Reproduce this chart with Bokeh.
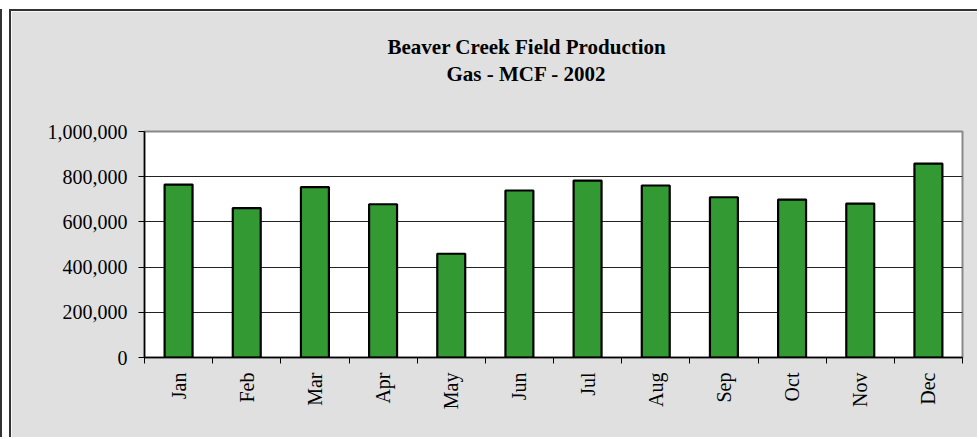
from bokeh.plotting import figure
from bokeh.models import (ColumnDataSource, FixedTicker, NumeralTickFormatter,
                          Range1d, Title)
from bokeh.embed import file_html
from bokeh.resources import INLINE

months = ["Jan", "Feb", "Mar", "Apr", "May", "Jun",
          "Jul", "Aug", "Sep", "Oct", "Nov", "Dec"]
gas_mcf = [765000, 661000, 754000, 678000, 459000, 739000,
           783000, 761000, 709000, 699000, 681000, 858000]
y_ticks = [0, 200000, 400000, 600000, 800000, 1000000]

positions = [i + 0.5 for i in range(len(months))]
source = ColumnDataSource(dict(x=positions, month=months, gas=gas_mcf))

FONT = "Liberation Serif"
BG = "#e0e0e0"

p = figure(width=968, height=428, output_backend="svg", toolbar_location=None,
           x_range=Range1d(0, len(months)), y_range=Range1d(0, 1000000),
           background_fill_color="white", border_fill_color=BG,
           min_border_left=133, min_border_right=17,
           min_border_top=120, min_border_bottom=82)
p.title.text = ""
p.title.visible = False

p.add_layout(Title(text=" ", text_font_size="1px", standoff=42), "above")
p.add_layout(Title(text="Gas - MCF - 2002", align="left",
                   text_font=FONT, text_font_size="21px", text_font_style="bold",
                   text_color="black", standoff=2, offset=302), "above")
p.add_layout(Title(text="Beaver Creek Field Production", align="left",
                   text_font=FONT, text_font_size="21px", text_font_style="bold",
                   text_color="black", standoff=0, offset=243), "above")

p.vbar(x="x", top="gas", bottom=0, width=0.41, source=source,
       fill_color="#339933", line_color="black", line_width=2.2)

# x axis: labels at category centres, tick marks at category boundaries
xt = FixedTicker(ticks=positions, minor_ticks=list(range(len(months) + 1)))
p.xaxis.ticker = xt
p.xaxis.major_label_overrides = {pos: m for pos, m in zip(positions, months)}
p.xaxis.major_tick_out = 0
p.xaxis.major_tick_in = 0
p.xaxis.minor_tick_out = 6
p.xaxis.minor_tick_in = 0
p.xaxis.minor_tick_line_color = "black"
p.xaxis.major_label_orientation = 1.5708
p.xaxis.major_label_standoff = 9
p.xaxis.major_label_text_font = FONT
p.xaxis.major_label_text_font_size = "20px"
p.xaxis.major_label_text_color = "black"
p.xaxis.axis_line_color = "black"
p.xaxis.axis_line_width = 1.5

p.yaxis.ticker = FixedTicker(ticks=y_ticks)
p.yaxis.formatter = NumeralTickFormatter(format="0,0")
p.yaxis.major_tick_out = 6
p.yaxis.major_tick_in = 0
p.yaxis.minor_tick_line_color = None
p.yaxis.major_tick_line_color = "black"
p.yaxis.major_label_standoff = 11
p.yaxis.major_label_text_font = FONT
p.yaxis.major_label_text_font_size = "20px"
p.yaxis.major_label_text_color = "black"
p.yaxis.axis_line_color = "black"
p.yaxis.axis_line_width = 1.5

p.xgrid.grid_line_color = None
p.ygrid.ticker = FixedTicker(ticks=y_ticks[1:-1])
p.ygrid.grid_line_color = "#222222"
p.ygrid.grid_line_width = 1

p.outline_line_color = "#888888"
p.outline_line_width = 2

p.styles = {"margin-left": "9px", "margin-top": "9px",
            "border-left": "2px solid #333333", "border-top": "2px solid #333333",
            "box-shadow": "-7px 0 0 0 white, -9px 0 0 0 #333333"}

open("out.html", "w").write(file_html(p, INLINE))
